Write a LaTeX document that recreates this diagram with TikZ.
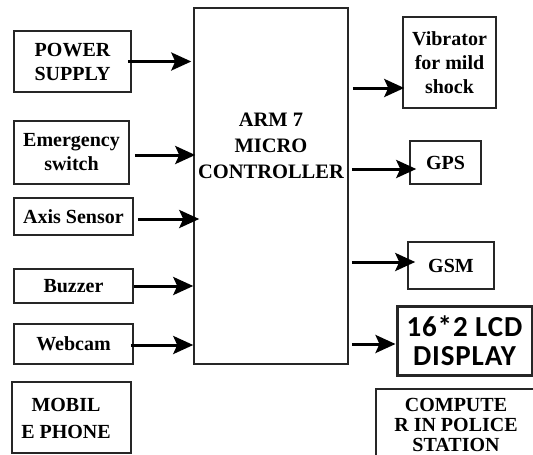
\documentclass[tikz,border=0pt]{standalone}
\usepackage{fontspec}
\setmainfont{Liberation Serif}
\newfontfamily\lcdfont[LetterSpace=3]{Carlito}
\usetikzlibrary{arrows.meta}
\begin{document}
\begin{tikzpicture}[x=1pt,y=-1pt,
  blk/.style={draw=black!85, line width=1.5pt, align=center, inner sep=0pt,
    font=\bfseries\fontsize{20}{24}\selectfont},
  arr/.style={line width=3pt, -{Stealth[length=20pt,width=18pt,inset=4pt]}}]
\useasboundingbox (0,0) rectangle (533,455);
\clip (0,0) rectangle (533,455);
\fill[white] (0,0) rectangle (533,455);
% main controller
\node[blk, minimum width=154pt, minimum height=356pt] (mc) at (271,186) {};
\node[font=\bfseries\fontsize{20.5}{26}\selectfont, align=center] (mct) at (271,146) {ARM 7\\MICRO\\CONTROLLER};
% inputs
\node[blk, minimum width=117pt, minimum height=61pt] (ps) at (72.5,61.5) {POWER\\SUPPLY};
\node[blk, minimum width=115pt, minimum height=63pt] (es) at (71.5,152.5) {Emergency\\switch};
\node[blk, minimum width=119pt, minimum height=37pt] (ax) at (73.5,216.5) {Axis Sensor};
\node[blk, minimum width=119pt, minimum height=34pt] (bz) at (73.5,286) {Buzzer};
\node[blk, minimum width=119pt, minimum height=40pt] (wc) at (73.5,344) {Webcam};
\node[blk, minimum width=119pt, minimum height=71pt] (mp) at (71.5,417.5) {};
\node[font=\bfseries\fontsize{20}{27}\selectfont, align=center] (mpt) at (66,418) {MOBIL\\E PHONE};
% outputs
\node[blk, minimum width=93pt, minimum height=91pt] (vib) at (449.5,62.5) {Vibrator\\for mild\\shock};
\node[blk, minimum width=71pt, minimum height=43pt] (gps) at (445.5,162.5) {GPS};
\node[blk, minimum width=86pt, minimum height=47pt] (gsm) at (451,265.5) {GSM};
\node[blk, line width=3pt, minimum width=135pt, minimum height=69pt,
  font=\lcdfont\bfseries\fontsize{29}{29}\selectfont] (lcd) at (464.5,341) {16*2 LCD\\DISPLAY};
\node[blk, minimum width=160pt, minimum height=72pt, font=\bfseries\fontsize{20}{20}\selectfont] (cmp) at (456,425) {COMPUTE\\R IN POLICE\\STATION};
% input arrows
\draw[arr, shorten <=-4pt, shorten >=2pt] (ps.east) -- (ps.east -| mc.west);
\draw[arr, shorten <=5pt, shorten >=-2pt] ([yshift=-2.5pt]es.east) -- ([yshift=-2.5pt]es.east -| mc.west);
\draw[arr, shorten <=4pt, shorten >=-6pt] ([yshift=-2.5pt]ax.east) -- ([yshift=-2.5pt]ax.east -| mc.west);
\draw[arr] (bz.east) -- (bz.east -| mc.west);
\draw[arr, shorten <=-3pt] ([yshift=-1pt]wc.east) -- ([yshift=-1pt]wc.east -| mc.west);
% output arrows
\draw[arr, shorten <=4pt, shorten >=-2pt] ([yshift=-25.5pt]vib.west -| mc.east) -- ([yshift=-25.5pt]vib.west);
\draw[arr, shorten <=3pt, shorten >=-7pt] ([yshift=-6.5pt]gps.west -| mc.east) -- ([yshift=-6.5pt]gps.west);
\draw[arr, shorten <=3pt, shorten >=-8pt] ([yshift=3.5pt]gsm.west -| mc.east) -- ([yshift=3.5pt]gsm.west);
\draw[arr, shorten <=3pt, shorten >=0pt] ([yshift=-3pt]lcd.west -| mc.east) -- ([yshift=-3pt]lcd.west);
\end{tikzpicture}
\end{document}
